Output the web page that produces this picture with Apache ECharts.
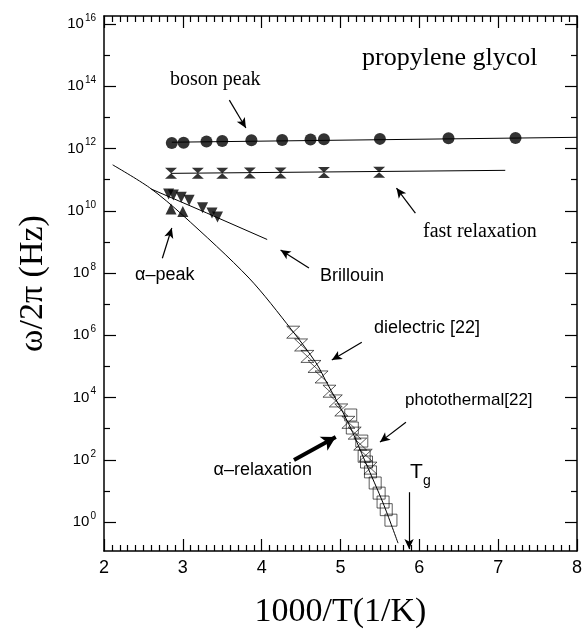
<!DOCTYPE html>
<html>
<head>
<meta charset="utf-8">
<script src="https://cdn.jsdelivr.net/npm/echarts@6/dist/echarts.min.js"></script>
<style>
  html, body { margin: 0; padding: 0; background: #fff; }
  #chart { width: 585px; height: 634px; }
</style>
</head>
<body>
<div id="chart"></div>
<script>
// boson peak (filled circles) + fit line
const bosonX = [2.86, 3.01, 3.30, 3.50, 3.87, 4.26, 4.62, 4.79, 5.50, 6.37, 7.22];
const bosonY = [1.5e12, 1.55e12, 1.7e12, 1.75e12, 1.85e12, 1.9e12, 1.95e12, 2.0e12, 2.05e12, 2.15e12, 2.2e12];
const bosonFitX = [2.86, 8.0];
const bosonFitY = [1.6e12, 2.3e12];

// fast relaxation (filled hourglass) + fit line
const fastX = [2.85, 3.19, 3.50, 3.85, 4.24, 4.79, 5.49];
const fastY = [1.6e11, 1.6e11, 1.6e11, 1.65e11, 1.65e11, 1.7e11, 1.75e11];
const fastFitX = [2.85, 7.09];
const fastFitY = [1.6e11, 2.0e11];

// Brillouin (filled down triangles) + line
const brilX = [2.82, 2.88, 2.98, 3.08, 3.25, 3.37, 3.44];
const brilY = [3.5e10, 3.2e10, 2.75e10, 2.2e10, 1.25e10, 8.5e9, 6.3e9];
const brilFitX = [2.60, 3.30, 4.07];
const brilFitY = [5.0e10, 8.6e9, 1.2e9];

// alpha peak (filled up triangles)
const alphaX = [2.85, 3.00];
const alphaY = [1.15e10, 9.5e9];

// alpha relaxation curve
const vftX = [2.11, 2.58, 3.00, 3.84, 4.38, 4.69, 4.81, 5.10, 5.32, 5.54, 5.73];
const vftY = [3.0e11, 5.5e10, 7.2e9, 6.9e7, 1.5e6, 1.3e5, 3.6e4, 1.5e3, 80, 4.1, 0.21];

// dielectric [22] (open hourglass)
const dielX = [4.40, 4.50, 4.58, 4.67, 4.76, 4.86, 4.94, 5.01, 5.10, 5.18, 5.25, 5.32, 5.38];
const dielY = [1.26e6, 4.9e5, 2.1e5, 1.0e5, 4.6e4, 1.6e4, 7.8e3, 4.0e3, 1.6e3, 720, 320, 140, 54];

// photothermal [22] (open squares)
const photoX = [5.13, 5.15, 5.27, 5.30, 5.33, 5.38, 5.44, 5.49, 5.54, 5.58, 5.64];
const photoY = [2.75e3, 1.05e3, 400, 130, 85, 41, 18, 8.5, 4.4, 2.5, 1.15];

// annotation arrows [from, to] in (1000/T, Hz)
const arrows = [
  [[3.59, 3.6e13], [3.80, 4.6e12]],
  [[5.95, 8.5e9], [5.71, 5.4e10]],
  [[2.74, 3.0e8], [2.86, 2.8e9]],
  [[4.60, 1.45e8], [4.24, 5.5e8]],
  [[5.27, 6.0e5], [4.89, 1.6e5]],
  [[5.83, 1.6e3], [5.50, 370]],
  [[5.87, 9.1], [5.87, 0.135]]
];
const thickArrow = [[4.41, 98], [4.94, 540]];

// axis ticks
const xMajor = [2, 3, 4, 5, 6, 7, 8];
const xMinor = [];
for (let i = 20; i <= 80; i++) if (i % 10) xMinor.push(i / 10);
const majorExp = [0, 2, 4, 6, 8, 10, 12, 14, 16];
const minorExp = [1, 3, 5, 7, 9, 11, 13, 15];

const lg = v => Math.log10(v);
const pairs = (xs, ys) => xs.map((x, i) => [x, lg(ys[i])]);

const SANS = '"Liberation Sans", Arial, sans-serif';
const SERIF = '"Liberation Serif", "Times New Roman", serif';
const hourglass = 'path://M0,0L10,0L0,10L10,10Z';

const chart = echarts.init(document.getElementById('chart'));

function yAx(pos, ticks, len, withLine) {
  return {
    type: 'value', min: -0.93, max: 16.26, position: pos,
    splitLine: { show: false },
    axisLine: { show: withLine, onZero: false, lineStyle: { color: '#000', width: 1.5 } },
    axisTick: { show: true, inside: true, length: len, customValues: ticks, lineStyle: { color: '#000', width: 1.2 } },
    axisLabel: { show: false }
  };
}
function xAx(pos, ticks, len, withLine) {
  return {
    type: 'value', min: 2, max: 8, position: pos,
    splitLine: { show: false },
    axisLine: { show: withLine, onZero: false, lineStyle: { color: '#000', width: 1.5 } },
    axisTick: { show: true, inside: true, length: len, customValues: ticks, lineStyle: { color: '#000', width: 1.2 } },
    axisLabel: { show: false }
  };
}

const xBottom = xAx('bottom', xMajor, 12, true);
xBottom.name = '1000/T(1/K)';
xBottom.nameLocation = 'middle';
xBottom.nameGap = 44;
xBottom.nameTextStyle = { fontFamily: SERIF, fontSize: 34, color: '#000' };
xBottom.axisLabel = { show: true, customValues: xMajor, color: '#000', fontFamily: SANS, fontSize: 18, margin: 8 };

const yLeft = yAx('left', majorExp, 12, true);
yLeft.name = 'ω/2π (Hz)';
yLeft.nameLocation = 'middle';
yLeft.nameGap = 54;
yLeft.nameRotate = 90;
yLeft.nameTextStyle = { fontFamily: SERIF, fontSize: 34, color: '#000' };
yLeft.axisLabel = {
  show: true, customValues: majorExp, margin: 8,
  formatter: v => '{b|10}{s|' + v + '}',
  rich: {
    b: { fontFamily: SANS, fontSize: 15, color: '#000' },
    s: { fontFamily: SANS, fontSize: 10, color: '#000', padding: [0, 0, 12, 1] }
  }
};

const option = {
  animation: false,
  backgroundColor: '#fff',
  grid: { left: 104, right: 5, top: 16, bottom: 83 },
  xAxis: [
    xBottom,
    xAx('top', xMajor, 12, true),
    xAx('bottom', xMinor, 6, false),
    xAx('top', xMinor, 6, false)
  ],
  yAxis: [
    yLeft,
    yAx('right', majorExp, 12, true),
    yAx('left', minorExp, 6, false),
    yAx('right', minorExp, 6, false)
  ],
  series: [
    {
      name: 'boson fit', type: 'line', data: pairs(bosonFitX, bosonFitY),
      symbol: 'none', lineStyle: { color: '#000', width: 1 }
    },
    {
      name: 'boson peak', type: 'scatter', data: pairs(bosonX, bosonY),
      symbol: 'circle', symbolSize: 12, itemStyle: { color: '#000' }
    },
    {
      name: 'fast fit', type: 'line', data: pairs(fastFitX, fastFitY),
      symbol: 'none', lineStyle: { color: '#000', width: 1 }
    },
    {
      name: 'fast relaxation', type: 'scatter', data: pairs(fastX, fastY),
      symbol: hourglass, symbolSize: [12, 11], itemStyle: { color: '#000' }
    },
    {
      name: 'Brillouin fit', type: 'line', data: pairs(brilFitX, brilFitY),
      symbol: 'none', lineStyle: { color: '#000', width: 1 }
    },
    {
      name: 'Brillouin', type: 'scatter', data: pairs(brilX, brilY),
      symbol: 'triangle', symbolRotate: 180, symbolSize: 11, itemStyle: { color: '#000' }
    },
    {
      name: 'alpha peak', type: 'scatter', data: pairs(alphaX, alphaY),
      symbol: 'triangle', symbolSize: 11, itemStyle: { color: '#000' }
    },
    {
      name: 'alpha relaxation', type: 'line', data: pairs(vftX, vftY),
      symbol: 'none', smooth: 0.3, lineStyle: { color: '#000', width: 1 }
    },
    {
      name: 'dielectric', type: 'scatter', data: pairs(dielX, dielY),
      symbol: hourglass, symbolSize: [13, 12],
      itemStyle: { color: 'transparent', borderColor: '#000', borderWidth: 0.8 }
    },
    {
      name: 'photothermal', type: 'scatter', data: pairs(photoX, photoY),
      symbol: 'rect', symbolSize: 12,
      itemStyle: { color: 'transparent', borderColor: '#000', borderWidth: 0.8 }
    },
    {
      name: 'arrows', type: 'line', data: [], silent: true,
      markLine: {
        silent: true, animation: false,
        symbol: ['none', 'arrow'], symbolSize: [7, 10],
        label: { show: false },
        lineStyle: { color: '#000', width: 1.2, type: 'solid' },
        data: arrows.map(a => [
          { coord: [a[0][0], lg(a[0][1])] },
          { coord: [a[1][0], lg(a[1][1])] }
        ])
      }
    },
    {
      name: 'thick arrow', type: 'line', data: [], silent: true,
      markLine: {
        silent: true, animation: false,
        symbol: ['none', 'arrow'], symbolSize: [12, 14],
        label: { show: false },
        lineStyle: { color: '#000', width: 4, type: 'solid' },
        data: [[
          { coord: [thickArrow[0][0], lg(thickArrow[0][1])] },
          { coord: [thickArrow[1][0], lg(thickArrow[1][1])] }
        ]]
      }
    }
  ],
  graphic: [
    { type: 'text', x: 362, y: 58, style: { text: 'propylene glycol', font: '26px ' + SERIF, fill: '#000', verticalAlign: 'middle' } },
    { type: 'text', x: 170, y: 80, style: { text: 'boson peak', font: '20px ' + SERIF, fill: '#000', verticalAlign: 'middle' } },
    { type: 'text', x: 423, y: 232, style: { text: 'fast relaxation', font: '20px ' + SERIF, fill: '#000', verticalAlign: 'middle' } },
    { type: 'text', x: 135, y: 275, style: { text: 'α–peak', font: '18px ' + SANS, fill: '#000', verticalAlign: 'middle' } },
    { type: 'text', x: 320, y: 276, style: { text: 'Brillouin', font: '18px ' + SANS, fill: '#000', verticalAlign: 'middle' } },
    { type: 'text', x: 374, y: 328, style: { text: 'dielectric [22]', font: '18px ' + SANS, fill: '#000', verticalAlign: 'middle' } },
    { type: 'text', x: 405, y: 400, style: { text: 'photothermal[22]', font: '17px ' + SANS, fill: '#000', verticalAlign: 'middle' } },
    { type: 'text', x: 312, y: 470, style: { text: 'α–relaxation', font: '18px ' + SANS, fill: '#000', align: 'right', verticalAlign: 'middle' } },
    { type: 'text', x: 410, y: 472, style: { text: 'T', font: '21px ' + SANS, fill: '#000', verticalAlign: 'middle' } },
    { type: 'text', x: 423, y: 481, style: { text: 'g', font: '14px ' + SANS, fill: '#000', verticalAlign: 'middle' } }
  ]
};

chart.setOption(option);
</script>
</body>
</html>
